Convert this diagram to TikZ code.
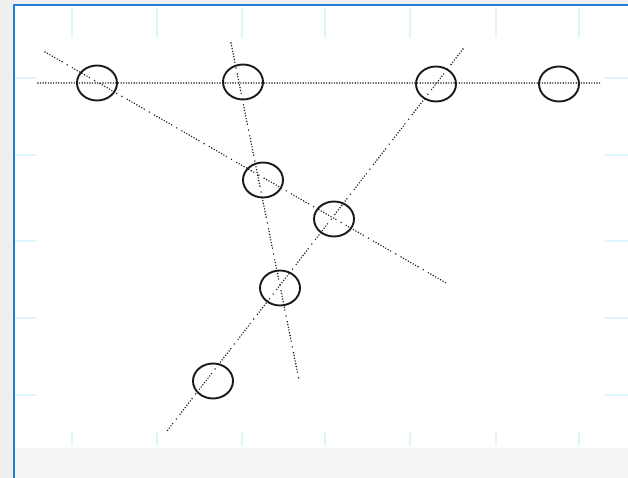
\documentclass[tikz,border=0pt]{standalone}
\usetikzlibrary{shapes.geometric}
\definecolor{outgrey}{HTML}{EFEFEF}
\definecolor{bandgrey}{HTML}{F4F4F4}
\definecolor{frameblue}{HTML}{1B7FD6}
\definecolor{tickcyan}{HTML}{DDF5FB}
\definecolor{ink}{HTML}{1A1A1A}
\tikzset{
  ell/.style={draw=ink, line width=1.9pt, ellipse, minimum width=40pt, minimum height=35pt, inner sep=0pt},
  dotline/.style={draw=ink, line width=1.6pt, line cap=round, dash pattern=on 0pt off 2.6pt},
  dashdotline/.style={draw=ink, line width=1.6pt, line cap=round,
    dash pattern=on 0pt off 2.8pt on 0pt off 2.8pt on 0pt off 2.8pt on 0pt off 2.8pt on 0pt off 2.8pt on 0pt off 2.8pt on 0pt off 2.8pt on 0pt off 6pt on 0pt off 6pt},
  tick/.style={draw=tickcyan, line width=2pt}
}
\begin{document}
\begin{tikzpicture}[x=1pt,y=-1pt]
\useasboundingbox (0,0) rectangle (628,478);
\fill[outgrey] (0,0) rectangle (628,478);
\fill[white] (14,5) rectangle (628,448);
\fill[bandgrey] (14,448) rectangle (628,478);
% ticks
\foreach \x in {72,157,242,325,410,496,579} {
  \draw[tick] (\x,8) -- (\x,38);
  \draw[tick] (\x,431) -- (\x,446);
}
\foreach \y in {78,155,241,318,395} {
  \draw[tick] (15,\y) -- (37,\y);
  \draw[tick] (605,\y) -- (628,\y);
}
% frame
\draw[frameblue, line width=2pt] (14,478) -- (14,5.5) -- (628,5.5);
% nodes
\node[ell] (A) at (97,83) {};
\node[ell] (B) at (243,82) {};
\node[ell] (C) at (436,84) {};
\node[ell] (D) at (559,84) {};
\node[ell] (E) at (263,180) {};
\node[ell] (F) at (334,219) {};
\node[ell] (G) at (280,288) {};
\node[ell] (H) at (213,381) {};
% connector ends
\coordinate (h1) at (38,83);
\coordinate (h2) at (602,83);
\coordinate (d1) at (45,52);
\coordinate (d2) at (448,284);
\coordinate (v1) at (231,43);
\coordinate (v2) at (299,380);
\coordinate (s1) at (463,49);
\coordinate (s2) at (167,431);
\draw[dotline] (h1) -- (h2);
\draw[dashdotline] (d1) -- (d2);
\draw[dashdotline] (v1) -- (v2);
\draw[dashdotline] (s1) -- (s2);
\end{tikzpicture}
\end{document}
